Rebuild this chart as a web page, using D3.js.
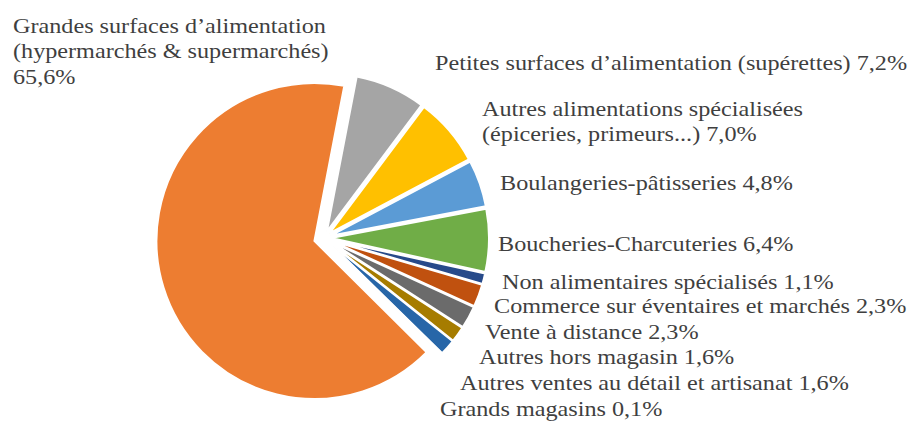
<!DOCTYPE html>
<html>
<head>
    <meta charset="UTF-8">
    <title>Parts de marché par forme de vente</title>
    <style>
        body { margin: 0; background: #fff; }
    </style>
    <script src="https://d3js.org/d3.v7.min.js"></script>
</head>
<body>
    <div id="chart"></div>
    <script>
        // données (ordre des secteurs, sens horaire depuis le haut)
        const categories = [
            "Petites surfaces d\u2019alimentation (supérettes)",
            "Autres alimentations spécialisées (épiceries, primeurs...)",
            "Boulangeries-pâtisseries",
            "Boucheries-Charcuteries",
            "Non alimentaires spécialisés",
            "Commerce sur éventaires et marchés",
            "Vente à distance",
            "Autres hors magasin",
            "Autres ventes au détail et artisanat",
            "Grands magasins",
            "Grandes surfaces d\u2019alimentation (hypermarchés & supermarchés)"
        ];
        const values = [7.2, 7.0, 4.8, 6.4, 1.1, 2.3, 2.3, 1.6, 1.6, 0.1, 65.6];
        const labelLines = [
            ["Petites surfaces d\u2019alimentation (supérettes) 7,2%"],
            ["Autres alimentations spécialisées", "(épiceries, primeurs...) 7,0%"],
            ["Boulangeries-pâtisseries 4,8%"],
            ["Boucheries-Charcuteries 6,4%"],
            ["Non alimentaires spécialisés 1,1%"],
            ["Commerce sur éventaires et marchés 2,3%"],
            ["Vente à distance 2,3%"],
            ["Autres hors magasin 1,6%"],
            ["Autres ventes au détail et artisanat 1,6%"],
            ["Grands magasins 0,1%"],
            ["Grandes surfaces d\u2019alimentation", "(hypermarchés & supermarchés)", "65,6%"]
        ];

        const colors = ["#a5a5a5", "#ffc000", "#5b9bd5", "#70ad47", "#274a8a", "#c0510f",
            "#6b6b6b", "#a67c00", "#2766a8", "#43682b", "#ed7d31"];
        // position des étiquettes (x, ligne de base)
        const labelPos = [[435, 70], [482, 116], [500, 190], [498, 251], [502, 289], [494, 313],
            [485, 339], [479, 364], [460, 390], [440, 416], [13, 33]];

        const width = 910, height = 425;
        const cx = 324, cy = 238, R = 158;
        const startDeg = 10.9;

        const svg = d3.select("#chart").append("svg")
            .attr("width", width)
            .attr("height", height);

        const pie = d3.pie().sort(null).value(d => d)
            .startAngle(startDeg * Math.PI / 180)
            .endAngle((startDeg + 360) * Math.PI / 180);
        const arcs = pie(values);
        const arc = d3.arc().innerRadius(0).outerRadius(R);

        const g = svg.append("g").attr("transform", `translate(${cx},${cy})`);

        g.selectAll("path")
            .data(arcs)
            .join("path")
            .attr("d", arc)
            .attr("fill", (d, i) => colors[i])
            .attr("stroke", "#fff")
            .attr("stroke-width", 2)
            .attr("transform", (d, i) => {
                const a = (d.startAngle + d.endAngle) / 2;
                const e = i === values.length - 1 ? 10 : 7;
                return `translate(${e * Math.sin(a)},${-e * Math.cos(a)})`;
            });

        // police Times élargie (l'image d'origine est un peu étirée)
        const lh = 25.5, sx = 1.1;
        labelLines.forEach((lines, i) => {
            const [x, y] = labelPos[i];
            const t = svg.append("text")
                .attr("transform", `translate(${x},${y}) scale(${sx},1)`)
                .attr("font-family", "'Liberation Serif'")
                .attr("font-size", 22)
                .attr("fill", "#3f3f3f");
            lines.forEach((s, j) => {
                t.append("tspan")
                    .attr("x", 0)
                    .attr("dy", j === 0 ? 0 : lh)
                    .text(s);
            });
        });
    </script>
</body>
</html>
